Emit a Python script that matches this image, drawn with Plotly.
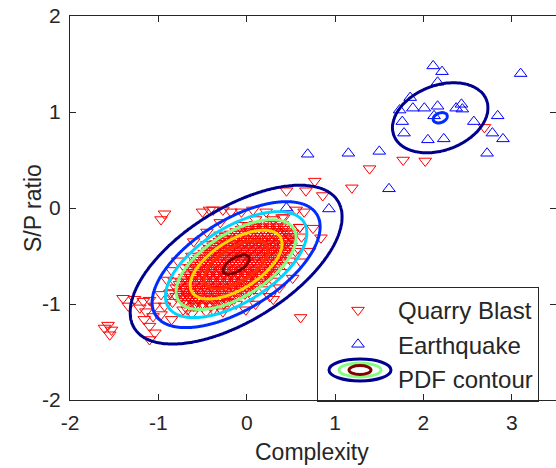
import numpy as np
import plotly.graph_objects as go

# ---------------- data ----------------
quake_x = [2.11, 2.21, 3.10, 2.16, 1.85, 1.73, 1.88, 2.01, 2.16, 2.37, 2.43, 2.44, 1.76, 2.12,
           2.57, 2.84, 1.78, 2.05, 2.23, 2.78, 2.90, 2.72, 1.50, 0.69, 1.15, 1.61, 0.93, 0.45]
quake_y = [1.48, 1.42, 1.40, 1.31, 1.15, 1.02, 1.04, 1.04, 1.06, 1.04, 1.08, 1.03, 0.90, 0.96,
           0.90, 0.96, 0.78, 0.71, 0.72, 0.78, 0.72, 0.57, 0.59, 0.56, 0.57, 0.20, -0.01, 0.00]

# scattered quarry blasts (outside the dense core)
blast_outer = [
    (2.69, 0.84), (1.77, 0.50), (2.02, 0.49), (1.39, 0.41), (1.19, 0.21),
    (0.77, 0.28), (0.67, 0.18), (0.45, 0.18), (0.86, 0.13),
    (-0.93, -0.06), (-0.97, -0.12), (-0.50, -0.04), (-0.42, -0.02), (-0.38, -0.02),
    (-0.27, -0.02), (-0.18, -0.04), (-0.06, -0.04), (0.07, -0.02), (0.22, -0.04),
    (0.56, -0.02), (0.65, -0.04),
    (0.75, -0.21), (0.84, -0.31), (0.71, -0.45), (0.61, -0.56), (0.52, -0.73),
    (0.37, -0.83), (0.26, -0.92), (0.61, -1.14),
    (-1.40, -0.94), (-1.27, -0.95), (-1.17, -0.97), (-1.10, -0.96), (-0.97, -0.90),
    (-0.87, -0.89), (-0.80, -0.92), (-1.34, -1.02), (-1.21, -1.04), (-1.14, -1.08),
    (-1.04, -1.02), (-0.93, -1.02), (-1.16, -1.16), (-1.06, -1.13), (-0.97, -1.11),
    (-1.10, -1.23), (-0.70, -0.99), (-0.67, -1.06), (-0.85, -1.16),
    (-1.57, -1.22), (-1.61, -1.25), (-1.53, -1.27), (-1.55, -1.32),
    (-1.04, -1.30), (-1.10, -1.37),
    (-0.80, -0.83), (-0.72, -0.90), (-0.57, -0.97), (-0.38, -1.06), (-0.27, -1.08),
    (-0.01, -1.06),
    (-0.85, -0.65), (-0.78, -0.55), (-0.60, -0.35), (-0.45, -0.25), (-0.30, -0.15),
    (0.45, -0.60), (0.55, -0.45), (0.50, -0.30), (0.30, -0.95), (0.10, -1.00),
    (-0.20, -0.98), (-0.90, -0.75), (0.60, -0.20), (0.40, -0.10),
    # between the green and cyan contours
    (0.60, -0.20), (0.52, -0.26), (0.42, -0.10), (0.30, -0.12), (0.10, -0.12),
    (-0.05, -0.18), (-0.30, -0.28), (-0.45, -0.38), (-0.62, -0.50), (-0.70, -0.62),
    (-0.82, -0.76), (-0.86, -0.88), (-0.84, -0.98), (-0.72, -1.06), (-0.62, -1.10),
    (-0.46, -1.08), (-0.30, -1.05), (-0.12, -1.00), (0.06, -0.92), (0.20, -0.85),
    (0.30, -0.76), (0.40, -0.67), (0.50, -0.55), (0.58, -0.42), (0.62, -0.30),
]

# dense core of quarry blasts, row by row (y, list of x)
blast_core_rows_y = [-1.02, -0.995, -0.97, -0.945, -0.92, -0.895, -0.87, -0.845, -0.82, -0.795,
                     -0.77, -0.745, -0.72, -0.695, -0.67, -0.645, -0.62, -0.595, -0.57, -0.545,
                     -0.52, -0.495, -0.47, -0.445, -0.42, -0.395, -0.37, -0.345, -0.32, -0.295,
                     -0.27, -0.245, -0.22, -0.195, -0.17]
blast_core_rows_x = [
    [-0.60, -0.50, -0.40],
    [-0.66, -0.58, -0.50, -0.42, -0.34, -0.26],
    [-0.70, -0.62, -0.54, -0.46, -0.38, -0.30, -0.22],
    [-0.72, -0.64, -0.56, -0.48, -0.40, -0.32, -0.24, -0.14],
    [-0.74, -0.66, -0.58, -0.50, -0.42, -0.34, -0.26, -0.18, -0.10],
    [-0.76, -0.68, -0.60, -0.52, -0.44, -0.36, -0.28, -0.20, -0.12, -0.02],
    [-0.76, -0.68, -0.60, -0.52, -0.44, -0.36, -0.28, -0.20, -0.12, -0.04, 0.03],
    [-0.70, -0.62, -0.54, -0.46, -0.38, -0.30, -0.22, -0.14, -0.06, 0.02, 0.08],
    [-0.72, -0.64, -0.56, -0.48, -0.40, -0.32, -0.24, -0.16, -0.08, 0.00, 0.10],
    [-0.76, -0.68, -0.60, -0.52, -0.44, -0.36, -0.28, -0.20, -0.12, -0.04, 0.04, 0.12],
    [-0.74, -0.66, -0.58, -0.50, -0.42, -0.34, -0.26, -0.18, -0.10, -0.02, 0.06, 0.15],
    [-0.70, -0.62, -0.54, -0.46, -0.38, -0.30, -0.22, -0.14, -0.06, 0.02, 0.10, 0.18, 0.22],
    [-0.70, -0.62, -0.54, -0.46, -0.38, -0.30, -0.22, -0.14, -0.06, 0.02, 0.10, 0.18, 0.25],
    [-0.66, -0.58, -0.50, -0.42, -0.34, -0.26, -0.18, -0.10, -0.02, 0.06, 0.14, 0.22, 0.28],
    [-0.66, -0.58, -0.50, -0.42, -0.34, -0.26, -0.18, -0.10, -0.02, 0.06, 0.14, 0.22, 0.30],
    [-0.62, -0.54, -0.46, -0.38, -0.30, -0.22, -0.14, -0.06, 0.02, 0.10, 0.18, 0.26, 0.34],
    [-0.64, -0.56, -0.48, -0.40, -0.32, -0.24, -0.16, -0.08, 0.00, 0.08, 0.16, 0.24, 0.34],
    [-0.60, -0.52, -0.44, -0.36, -0.28, -0.20, -0.12, -0.04, 0.04, 0.12, 0.20, 0.28, 0.37],
    [-0.58, -0.50, -0.42, -0.34, -0.26, -0.18, -0.10, -0.02, 0.06, 0.14, 0.22, 0.30, 0.39],
    [-0.56, -0.48, -0.40, -0.32, -0.24, -0.16, -0.08, 0.00, 0.08, 0.16, 0.24, 0.32, 0.40],
    [-0.54, -0.46, -0.38, -0.30, -0.22, -0.14, -0.06, 0.02, 0.10, 0.18, 0.26, 0.34, 0.42],
    [-0.50, -0.42, -0.34, -0.26, -0.18, -0.10, -0.02, 0.06, 0.14, 0.22, 0.30, 0.38, 0.45],
    [-0.48, -0.40, -0.32, -0.24, -0.16, -0.08, 0.00, 0.08, 0.16, 0.24, 0.32, 0.40, 0.46],
    [-0.44, -0.36, -0.28, -0.20, -0.12, -0.04, 0.04, 0.12, 0.20, 0.28, 0.36, 0.44],
    [-0.42, -0.34, -0.26, -0.18, -0.10, -0.02, 0.06, 0.14, 0.22, 0.30, 0.38, 0.48],
    [-0.38, -0.30, -0.22, -0.14, -0.06, 0.02, 0.10, 0.18, 0.26, 0.34, 0.42, 0.50],
    [-0.35, -0.27, -0.19, -0.11, -0.03, 0.05, 0.13, 0.21, 0.29, 0.37, 0.45],
    [-0.31, -0.23, -0.15, -0.07, 0.01, 0.09, 0.17, 0.25, 0.33, 0.41, 0.48],
    [-0.28, -0.20, -0.12, -0.04, 0.04, 0.12, 0.20, 0.28, 0.36, 0.44, 0.51],
    [-0.24, -0.16, -0.08, 0.00, 0.08, 0.16, 0.24, 0.32, 0.40, 0.48],
    [-0.18, -0.10, -0.02, 0.06, 0.14, 0.22, 0.30, 0.38, 0.46],
    [-0.12, -0.04, 0.04, 0.12, 0.20, 0.28, 0.36, 0.44],
    [-0.06, 0.02, 0.10, 0.18, 0.26, 0.34, 0.42],
    [0.02, 0.10, 0.18, 0.26, 0.34, 0.42],
    [0.10, 0.18, 0.26, 0.34, 0.40],
]

# fitted PDF parameters (estimated from the contour ellipses)
blast_mean = (-0.12, -0.59)
blast_sd = (0.50, 0.345)
blast_rho = 0.60
blast_peak = 1.0
quake_mean = (2.19, 0.94)
quake_sd = (0.365, 0.247)
quake_rho = 0.28
quake_peak = 0.168
contour_levels = [0.056, 0.164, 0.278, 0.397, 0.583, 0.77, 0.956]
contour_colors = ["rgb(0,0,143)", "rgb(0,43,255)", "rgb(0,213,255)", "rgb(128,255,128)",
                  "rgb(255,213,0)", "rgb(255,43,0)", "rgb(128,0,0)"]

x_range = [-2, 3.5]
y_range = [-2, 2]
x_ticks = [-2, -1, 0, 1, 2, 3]
x_tick_labels = ["-2", "-1", "0", "1", "2", "3"]
y_ticks = [-2, -1, 0, 1, 2]
y_tick_labels = ["-2", "-1", "0", "1", "2"]

# ---------------- build ----------------
blast_x = [p[0] for p in blast_outer]
blast_y = [p[1] for p in blast_outer]
for yv, xs in zip(blast_core_rows_y, blast_core_rows_x):
    blast_x += xs
    blast_y += [yv] * len(xs)


def gauss(X, Y, mean, sd, rho, peak):
    dx = (X - mean[0]) / sd[0]
    dy = (Y - mean[1]) / sd[1]
    q = (dx * dx - 2 * rho * dx * dy + dy * dy) / (1 - rho * rho)
    return peak * np.exp(-q / 2)


gx = np.linspace(x_range[0], x_range[1], 441)
gy = np.linspace(y_range[0], y_range[1], 321)
GX, GY = np.meshgrid(gx, gy)
dens = gauss(GX, GY, blast_mean, blast_sd, blast_rho, blast_peak) + \
    gauss(GX, GY, quake_mean, quake_sd, quake_rho, quake_peak)
n = len(contour_levels)
zlev = np.interp(dens, [0.0] + contour_levels + [2.0], [-1.0] + list(range(n)) + [n])
zlev = np.round(zlev, 3)

FONT = "Liberation Sans, Arial, sans-serif"
TXT = "#262626"

fig = go.Figure()
fig.add_trace(go.Scatter(
    x=blast_x, y=blast_y, mode="markers", name="Quarry Blast",
    marker=dict(symbol="triangle-down-open", size=11, color="#FF0000", line=dict(width=1)),
))
fig.add_trace(go.Scatter(
    x=quake_x, y=quake_y, mode="markers", name="Earthquake",
    marker=dict(symbol="triangle-up-open", size=11, color="#0000FF", line=dict(width=1)),
))
# contours on an overlaid subplot so the lines sit above the markers
fig.add_trace(go.Contour(
    x=gx, y=gy, z=zlev, showscale=False, showlegend=False, hoverinfo="skip",
    xaxis="x2", yaxis="y2",
    contours=dict(coloring="lines", start=0, end=n - 1, size=1),
    colorscale=[[i / (n - 1), c] for i, c in enumerate(contour_colors)],
    zmin=0, zmax=n - 1, zauto=False,
    line=dict(width=3, smoothing=1),
))
fig.add_trace(go.Scatter(
    x=[None], y=[None], mode="lines", name="PDF contour",
    line=dict(color="rgba(0,0,0,0)", width=1),
))

# geometry (pixels)
W, H, L, T, B, R = 556, 468, 70, 16, 68, 0
PW, PH = W - L - R, H - T - B


def px2paper(px, py):
    return (px - L) / PW, (H - B - py) / PH


# legend icon for the PDF contour entry
icon_cx, icon_cy = 360, 370
shapes = []
for (w, h, col) in [(62, 22, contour_colors[0]), (42, 14, contour_colors[3]), (22, 9, contour_colors[6])]:
    x0, y0 = px2paper(icon_cx - w / 2, icon_cy + h / 2)
    x1, y1 = px2paper(icon_cx + w / 2, icon_cy - h / 2)
    shapes.append(dict(type="circle", xref="paper", yref="paper", x0=x0, y0=y0, x1=x1, y1=y1,
                       line=dict(color=col, width=3), layer="above"))

xt_x, xt_y = px2paper(312, 452)
yt_x, yt_y = px2paper(33, 208)
annotations = [
    dict(text="Complexity", xref="paper", yref="paper", x=xt_x, y=xt_y,
         xanchor="center", yanchor="middle", showarrow=False,
         font=dict(family=FONT, size=23, color=TXT)),
    dict(text="S/P ratio", xref="paper", yref="paper", x=yt_x, y=yt_y, textangle=-90,
         xanchor="center", yanchor="middle", showarrow=False,
         font=dict(family=FONT, size=23, color=TXT)),
]

lx, ly = px2paper(317, 287)
fig.update_layout(
    template="none",
    width=W, height=H,
    margin=dict(l=L, r=R, t=T, b=B, autoexpand=False),
    paper_bgcolor="white", plot_bgcolor="white",
    font=dict(family=FONT, color=TXT, size=21),
    showlegend=True,
    legend=dict(x=lx, y=ly, xanchor="left", yanchor="top",
                bgcolor="rgba(0,0,0,0)", bordercolor=TXT, borderwidth=1,
                font=dict(family=FONT, size=24, color=TXT), itemwidth=70,
                traceorder="normal"),
    shapes=shapes,
    annotations=annotations,
)
axis_common = dict(showgrid=False, zeroline=False, showline=True, linecolor=TXT, linewidth=1,
                   mirror="ticks", ticks="inside", ticklen=6, tickcolor=TXT, automargin=False,
                   tickfont=dict(family=FONT, size=21, color=TXT))
fig.update_layout(
    xaxis=dict(range=x_range, tickvals=x_ticks, ticktext=x_tick_labels, ticklabelstandoff=4,
               **axis_common),
    yaxis=dict(range=y_range, tickvals=y_ticks, ticktext=y_tick_labels, ticklabelstandoff=4,
               **axis_common),
    xaxis2=dict(range=x_range, overlaying="x", visible=False, showgrid=False, zeroline=False),
    yaxis2=dict(range=y_range, overlaying="y", visible=False, showgrid=False, zeroline=False),
)

fig.write_html("out.html", config={"displayModeBar": False},
               post_script="document.body.style.margin='0px';")
